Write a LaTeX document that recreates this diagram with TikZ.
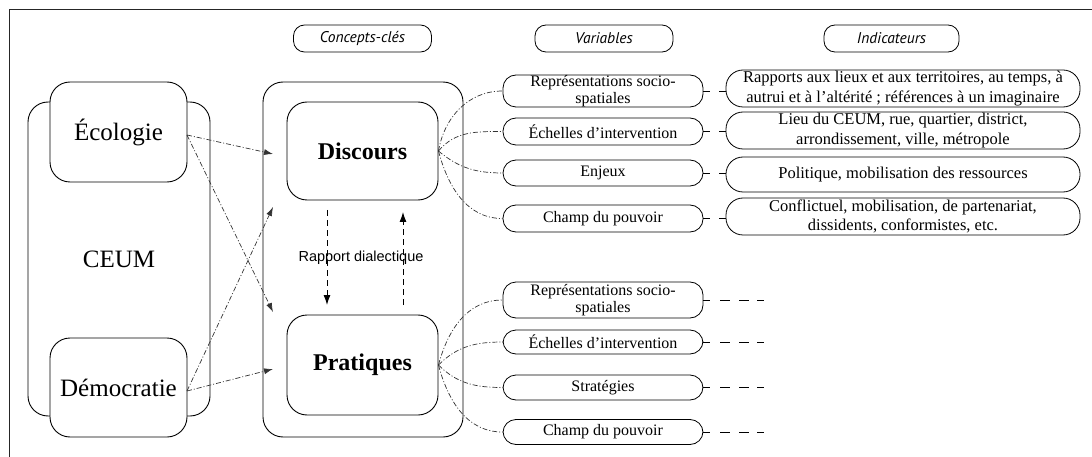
\documentclass[tikz,border=0pt]{standalone}
\usepackage{fontspec}
\setmainfont{Liberation Serif}
\newfontfamily\hdrfont{PT Sans}
\newfontfamily\lblfont{Liberation Sans}
\usetikzlibrary{arrows.meta}
\tikzset{
  frame/.style={line width=1.2pt, black!85},
  hdr/.style={draw, line width=0.8pt, rounded corners=11pt, minimum width=138pt, minimum height=27pt, inner sep=0pt,
    font=\hdrfont\itshape\fontsize{15.5}{17}\selectfont},
  bigbox/.style={draw, line width=0.9pt, rounded corners=20pt, fill=white, inner sep=0pt},
  bigtext/.style={font=\fontsize{25}{28}\selectfont},
  conc/.style={bigbox, minimum width=151pt, font=\bfseries\fontsize{24}{28}\selectfont},
  var/.style={draw, line width=0.8pt, rounded corners=13pt, fill=white, minimum width=200pt, inner sep=0pt, align=center,
    font=\fontsize{16}{17}\selectfont},
  ind/.style={draw, line width=0.8pt, rounded corners=17pt, fill=white, minimum width=354pt, inner sep=0pt, align=center,
    font=\fontsize{16.5}{19.5}\selectfont},
  dashdot/.style={line width=0.7pt, black!80, dash pattern=on 5pt off 2pt on 1pt off 2pt},
  cross/.style={dashdot, -{Latex[length=9pt,width=6pt]}},
  dial/.style={line width=1pt, dash pattern=on 6pt off 4pt, -{Latex[length=10pt,width=7pt]}},
  link/.style={line width=0.8pt, dash pattern=on 7pt off 9pt},
  tail/.style={line width=0.8pt, dash pattern=on 7pt off 10pt on 10pt off 9pt on 10pt off 8pt},
}
\begin{document}
\begin{tikzpicture}[x=1pt,y=-1pt]
\useasboundingbox (0,0) rectangle (1092,457);
\coordinate (fb) at (9.5,457);
\coordinate (ftl) at (9.5,9.5);
\coordinate (fr) at (1092,9.5);
\draw[frame] (fb) -- (ftl) -- (fr);

% headers
\node[hdr] (hC) at (362.5,38.5) {Concepts-clés};
\node[hdr] (hV) at (604,38.5) {Variables};
\node[hdr, minimum width=135pt] (hI) at (891.5,38.5) {Indicateurs};

% CEUM block
\node[bigbox, bigtext, minimum width=182pt, minimum height=314pt] (ceum) at (119,259) {CEUM};
\node[bigbox, bigtext, minimum width=137pt, minimum height=100pt] (eco) at (118.5,132) {Écologie};
\node[bigbox, bigtext, minimum width=137pt, minimum height=99pt] (dem) at (118.5,387.5) {Démocratie};

% concepts block
\node[bigbox, minimum width=200pt, minimum height=355pt] (concepts) at (363,259.5) {};
\node[conc, minimum height=98pt] (disc) at (362.5,151) {Discours};
\node[conc, minimum height=100pt] (prat) at (362.5,365) {Pratiques};
\node[font=\lblfont\fontsize{14.5}{16}\selectfont] (rd) at (361,258) {Rapport dialectique};

% dialectic arrows
\coordinate (a1s) at (327,210);
\coordinate (a1e) at (327,305);
\coordinate (a2s) at (403,305);
\coordinate (a2e) at (403,212);
\draw[dial] (a1s) -- (a1e);
\draw[dial] (a2s) -- (a2e);

% cross arrows
\coordinate (tD) at (273,154);
\coordinate (tP) at (273,312);
\coordinate (tD2) at (273,207);
\coordinate (tP2) at (273,369);
\coordinate (ecoR) at (187,135);
\coordinate (demR) at (187,391);
\draw[cross] (ecoR) -- (tD);
\draw[cross] (ecoR) -- (tP);
\draw[cross] (demR) -- (tD2);
\draw[cross] (demR) -- (tP2);

% variables (discours)
\node[var, minimum height=32pt] (v1) at (603,91) {Représentations socio-\\spatiales};
\node[var, minimum height=27pt] (v2) at (603,131.5) {Échelles d'intervention};
\node[var, minimum height=26pt] (v3) at (603,173) {Enjeux};
\node[var, minimum height=27pt] (v4) at (603,218.5) {Champ du pouvoir};

% variables (pratiques)
\node[var, minimum height=36pt] (w1) at (603,300) {Représentations socio-\\spatiales};
\node[var, minimum height=24pt] (w2) at (603,342) {Échelles d'intervention};
\node[var, minimum height=25pt] (w3) at (603,387.5) {Stratégies};
\node[var, minimum height=25pt] (w4) at (603,432) {Champ du pouvoir};

% indicators
\node[ind, minimum height=37pt] (i1) at (903,88.5) {Rapports aux lieux et aux territoires, au temps, à\\autrui et à l'altérité ; références à un imaginaire};
\node[ind, minimum height=37pt] (i2) at (903,130.5) {Lieu du CEUM, rue, quartier, district,\\arrondissement, ville, métropole};
\node[ind, minimum height=35pt] (i3) at (903,174.5) {Politique, mobilisation des ressources};
\node[ind, minimum height=37pt] (i4) at (903,216.5) {Conflictuel, mobilisation, de partenariat,\\dissidents, conformistes, etc.};

% discours -> variables
\draw[dashdot] (disc.east) to[out=80,in=180] (v1.west);
\draw[dashdot] (disc.east) to[out=50,in=180] (v2.west);
\draw[dashdot] (disc.east) to[out=-40,in=180] (v3.west);
\draw[dashdot] (disc.east) to[out=-75,in=180] (v4.west);

% pratiques -> variables
\draw[dashdot] (prat.east) to[out=75,in=180] (w1.west);
\draw[dashdot] (prat.east) to[out=45,in=180] (w2.west);
\draw[dashdot] (prat.east) to[out=-45,in=180] (w3.west);
\draw[dashdot] (prat.east) to[out=-75,in=180] (w4.west);

% variables -> indicators
\draw[link] (v1.east) -- (v1.east -| i1.west);
\draw[link] (v2.east) -- (v2.east -| i2.west);
\draw[link] (v3.east) -- (v3.east -| i3.west);
\draw[link] (v4.east) -- (v4.east -| i4.west);

% open tails
\coordinate (e1) at (768,300);
\coordinate (e2) at (768,342);
\coordinate (e3) at (768,387.5);
\coordinate (e4) at (768,432);
\draw[tail] (w1.east) -- (e1);
\draw[tail] (w2.east) -- (e2);
\draw[tail] (w3.east) -- (e3);
\draw[tail] (w4.east) -- (e4);
\end{tikzpicture}
\end{document}
